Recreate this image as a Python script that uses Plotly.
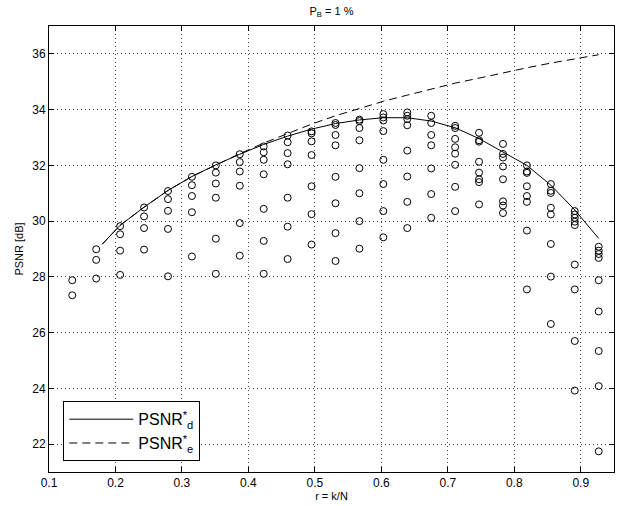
import plotly.graph_objects as go

# ---- data ----
r_cols = [0.135, 0.171, 0.207, 0.243, 0.279, 0.315, 0.351, 0.387, 0.423, 0.459,
          0.495, 0.531, 0.567, 0.603, 0.639, 0.675, 0.711, 0.747, 0.783, 0.819,
          0.855, 0.891, 0.927]

psnr_at_r = [
    [27.88, 27.34],
    [28.99, 28.61, 27.94],
    [29.82, 29.53, 28.94, 28.07],
    [30.49, 30.17, 29.75, 28.98],
    [31.08, 30.79, 30.37, 29.72, 28.02],
    [31.59, 31.29, 30.90, 30.32, 28.73],
    [32.00, 31.74, 31.35, 30.84, 29.37, 28.11],
    [32.40, 32.12, 31.78, 31.27, 29.93, 28.76],
    [32.68, 32.47, 32.20, 31.68, 30.44, 29.29, 28.11],
    [33.07, 32.83, 32.44, 32.04, 30.84, 29.80, 28.64],
    [33.22, 33.15, 32.86, 32.37, 31.25, 30.25, 29.16],
    [33.52, 33.45, 33.09, 32.72, 31.59, 30.64, 29.57, 28.57],
    [33.64, 33.59, 33.34, 32.90, 31.90, 31.00, 30.00, 29.01],
    [33.84, 33.72, 33.61, 33.23, 32.20, 31.33, 30.36, 29.42],
    [33.90, 33.78, 33.66, 33.44, 32.53, 31.60, 30.69, 29.75],
    [33.78, 33.52, 33.09, 32.72, 31.89, 30.97, 30.12],
    [33.42, 33.34, 32.95, 32.65, 32.42, 32.02, 31.23, 30.36],
    [33.17, 32.90, 32.85, 32.13, 31.74, 31.50, 31.40, 30.60],
    [32.77, 32.41, 32.28, 31.96, 31.50, 30.71, 30.56, 30.29],
    [32.00, 31.78, 31.73, 31.25, 30.90, 30.69, 29.66, 27.55],
    [31.33, 31.09, 31.01, 30.48, 30.24, 29.18, 28.01, 26.31],
    [30.36, 30.24, 30.12, 29.98, 29.86, 28.44, 27.55, 25.70, 23.92],
    [29.08, 28.94, 28.82, 28.68, 27.88, 26.76, 25.34, 24.08, 21.74],
]

r_curve = [0.180, 0.207, 0.243, 0.279, 0.315, 0.351, 0.387, 0.423, 0.459, 0.495,
           0.531, 0.567, 0.603, 0.639, 0.675, 0.711, 0.747, 0.783, 0.819, 0.855,
           0.891, 0.927]
psnr_d = [29.17, 29.85, 30.50, 31.10, 31.60, 32.02, 32.40, 32.75, 33.05, 33.30,
          33.50, 33.63, 33.71, 33.71, 33.59, 33.35, 32.96, 32.48, 32.00, 31.29,
          30.40, 29.38]
psnr_e = [29.17, 29.85, 30.50, 31.10, 31.60, 32.02, 32.42, 32.80, 33.15, 33.48,
          33.78, 34.03, 34.30, 34.52, 34.74, 34.95, 35.13, 35.32, 35.50, 35.67,
          35.83, 35.97]

x_ticks = [0.1, 0.2, 0.3, 0.4, 0.5, 0.6, 0.7, 0.8, 0.9]
y_ticks = [22, 24, 26, 28, 30, 32, 34, 36]

# ---- build ----
pts_x, pts_y = [], []
for r, ys in zip(r_cols, psnr_at_r):
    for v in ys:
        pts_x.append(r)
        pts_y.append(v)

FONT = "Liberation Sans, Arial, Helvetica, sans-serif"

fig = go.Figure()
fig.add_trace(go.Scatter(
    x=pts_x, y=pts_y, mode="markers", showlegend=False,
    marker=dict(symbol="circle-open", size=7, color="black", line=dict(width=1, color="black")),
))
fig.add_trace(go.Scatter(
    x=r_curve, y=psnr_d, mode="lines", name="PSNR<sup>*</sup><sub>d</sub>",
    line=dict(color="black", width=1),
))
fig.add_trace(go.Scatter(
    x=r_curve, y=psnr_e, mode="lines", name="PSNR<sup>*</sup><sub>e</sub>",
    line=dict(color="black", width=1, dash="8px,5px"),
))

axis_common = dict(
    showline=True, linecolor="black", linewidth=1, mirror="ticks",
    ticks="inside", ticklen=5, tickcolor="black", tickwidth=1,
    showgrid=True, gridcolor="#444", gridwidth=1, griddash="1px,3px",
    zeroline=False, automargin=False,
    tickfont=dict(family=FONT, size=12, color="black"),
)

fig.update_layout(
    width=623, height=506,
    margin=dict(l=49, r=9, t=26, b=34),
    paper_bgcolor="white", plot_bgcolor="white",
    font=dict(family=FONT, size=12, color="black"),
    title=dict(text="P<sub>B</sub> = 1 %", x=0.5, xref="paper", xanchor="center",
               y=1 - 11 / 506, yref="container", yanchor="middle",
               font=dict(family=FONT, size=11, color="black")),
    xaxis=dict(range=[0.1, 0.95], tickvals=x_ticks, ticktext=[f"{v:g}" for v in x_ticks],
               title=dict(text="r = k/N", standoff=2, font=dict(family=FONT, size=11)),
               **axis_common),
    yaxis=dict(range=[21, 37], tickvals=y_ticks, ticktext=[str(v) for v in y_ticks],
               title=dict(text="PSNR [dB]", standoff=6, font=dict(family=FONT, size=11)),
               **axis_common),
    legend=dict(x=0.0253, y=0.024, xanchor="left", yanchor="bottom",
                bgcolor="white", bordercolor="black", borderwidth=1,
                itemwidth=64, tracegroupgap=0,
                font=dict(family=FONT, size=16, color="black")),
)

fig.write_html("out.html", config={"displayModeBar": False},
               post_script="document.body.style.margin='0';document.body.style.overflow='hidden';")
